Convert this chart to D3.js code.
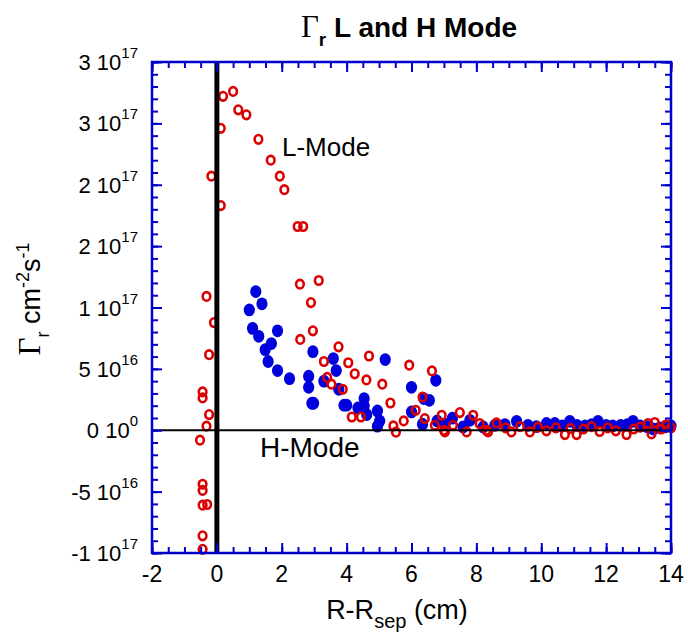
<!DOCTYPE html>
<html>
<head>
<meta charset="utf-8">
<script src="https://cdn.jsdelivr.net/npm/d3@7"></script>
<style>
  body { margin: 0; background: #fff; }
  svg { display: block; font-family: "Liberation Sans", Arial, Helvetica, sans-serif; }
</style>
</head>
<body>
<div id="chart"></div>
<script>
// flux values in units of 1e16 cm^-2 s^-1, position in cm
const lModeX = [-0.52, -0.44, -0.44, -0.44, -0.30, -0.44, -0.44, -0.32, -0.24, -0.44, -0.44, -0.24, -0.09, -0.32,
  0.12, -0.17, 0.12, 0.19, 0.50, 0.66, 0.91, 1.28, 1.66, 1.94, 2.08, 2.49, 2.66, 2.56, 3.14, 2.90, 2.96, 2.57,
  3.75, 3.30, 4.05, 4.69, 4.25, 3.40, 3.53, 3.88, 4.61, 5.10, 5.35, 4.16, 4.44, 5.44, 5.52, 5.76, 5.93, 6.63,
  6.34, 6.13, 6.41, 6.72, 6.93, 7.00, 7.28, 7.49, 7.90, 8.10, 8.31, 8.62, 7.03, 7.70, 8.36,
  8.90, 9.08, 9.35, 9.65, 9.90, 10.16, 10.45, 10.73, 10.90, 11.09, 11.30, 11.55, 11.80, 12.05, 12.30, 12.63,
  12.85, 13.05, 13.29, 13.40, 13.50, 13.70, 13.85, 14.00];
const lModeY = [-0.81, -9.7, -8.6, -6.1, -6.05, -4.9, -4.4, 0.33, 1.28, 2.63, 3.12, 6.16, 8.77, 10.9,
  18.3, 20.7, 24.6, 27.2, 27.6, 26.1, 25.7, 23.7, 22.0, 20.7, 19.6, 16.6, 16.6, 11.9, 12.2, 10.4, 8.1, 7.4,
  6.8, 5.6, 5.5, 6.05, 4.6, 4.3, 3.75, 3.34, 4.1, 3.75, 2.22, 1.08, 1.08, 0.35, -0.16, 0.76, 5.3, 4.83,
  2.7, 1.63, 0.95, 0.4, 1.22, 0.0, 0.4, 1.44, 1.22, 0.55, 0.0, 0.6, -0.14, -0.14, -0.14,
  0.2, -0.14, 0.3, -0.14, 0.25, -0.05, 0.2, -0.35, 0.15, -0.35, 0.1, 0.3, -0.1, 0.2, -0.05, -0.35,
  0.1, 0.25, 0.55, -0.3, 0.63, 0.1, 0.45, 0.2];

const hModeX = [1.20, 1.39, 1.00, 1.10, 1.29, 1.87, 1.68, 1.49, 1.58, 1.87, 2.24, 2.83, 2.83, 2.96, 2.93, 2.98,
  3.30, 3.59, 3.68, 3.76, 3.92, 4.00, 4.54, 4.54, 4.35, 4.62, 4.95, 5.02, 4.95, 5.19, 6.00, 6.00, 6.75, 6.38,
  6.55, 6.34, 6.79, 7.03, 7.26, 7.59, 7.80, 8.21, 8.57, 8.88, 9.24, 9.59, 9.85, 10.16, 10.42, 10.65, 10.88,
  11.10, 11.35, 11.55, 11.75, 12.00, 12.20, 12.45, 12.65, 12.83, 13.05, 13.25, 13.45, 13.65, 13.81, 14.00];
const hModeY = [11.3, 10.3, 9.8, 8.3, 7.65, 8.1, 7.06, 6.57, 5.6, 4.86, 4.2, 4.4, 3.5, 6.4, 2.2, 2.2,
  4.0, 5.84, 4.86, 3.34, 2.04, 2.04, 2.58, 1.98, 1.82, 1.28, 1.57, 0.76, 0.33, 5.76, 3.5, 1.49, 4.07, 2.58,
  2.44, 0.49, 0.76, 0.49, 0.98, 0.27, 0.81, 0.27, 0.4, 0.46, 0.73, 0.4, 0.3, 0.55, 0.55, 0.35, 0.73,
  0.4, 0.35, 0.45, 0.73, 0.4, 0.35, 0.4, 0.45, 0.73, 0.35, 0.3, 0.1, 0.2, 0.27, 0.35];

const xTicks = [-2, 0, 2, 4, 6, 8, 10, 12, 14];
const yTicks = [-10, -5, 0, 5, 10, 15, 20, 25, 30];

const width = 688, height = 635;
const margin = {top: 62, right: 17, bottom: 82, left: 152};
const axisBlue = "#0000cc";

const svg = d3.select("#chart").append("svg")
  .attr("width", width)
  .attr("height", height);

const x = d3.scaleLinear().domain([-2, 14]).range([margin.left, width - margin.right]);
const y = d3.scaleLinear().domain([-10, 30]).range([height - margin.bottom, margin.top]);

const lData = lModeX.map((d, i) => ({x: d, y: lModeY[i]}));
const hData = hModeX.map((d, i) => ({x: d, y: hModeY[i]}));

// markers
svg.append("g")
  .selectAll("ellipse")
  .data(hData)
  .join("ellipse")
  .attr("cx", d => x(d.x))
  .attr("cy", d => y(d.y))
  .attr("rx", 5.6)
  .attr("ry", 6.4)
  .attr("fill", "#0000dd");

svg.append("g")
  .selectAll("ellipse")
  .data(lData)
  .join("ellipse")
  .attr("cx", d => x(d.x))
  .attr("cy", d => y(d.y))
  .attr("rx", 3.8)
  .attr("ry", 4.3)
  .attr("fill", "none")
  .attr("stroke", "#dd0000")
  .attr("stroke-width", 2.6);

// zero lines
svg.append("line")
  .attr("x1", x(-2)).attr("x2", x(14))
  .attr("y1", y(0)).attr("y2", y(0))
  .attr("stroke", "#000").attr("stroke-width", 2);
svg.append("line")
  .attr("x1", x(0)).attr("x2", x(0))
  .attr("y1", y(30)).attr("y2", y(-10))
  .attr("stroke", "#000").attr("stroke-width", 5);

// axes with inward ticks on all four sides
const xMinor = d3.range(-2, 14.01, 0.5);
const yMinor = d3.range(-10, 30.01, 1);

function styleAxis(g) {
  g.select(".domain").remove();
  g.selectAll("line").attr("stroke", axisBlue).attr("stroke-width", 2);
  g.selectAll("text").remove();
}

svg.append("g").attr("transform", `translate(0,${y(-10)})`)
  .call(d3.axisTop(x).tickValues(xMinor).tickSize(6)).call(styleAxis);
svg.append("g").attr("transform", `translate(0,${y(-10)})`)
  .call(d3.axisTop(x).tickValues(xTicks).tickSize(10)).call(styleAxis);
svg.append("g").attr("transform", `translate(0,${y(30)})`)
  .call(d3.axisBottom(x).tickValues(xMinor).tickSize(6)).call(styleAxis);
svg.append("g").attr("transform", `translate(0,${y(30)})`)
  .call(d3.axisBottom(x).tickValues(xTicks).tickSize(10)).call(styleAxis);
svg.append("g").attr("transform", `translate(${x(-2)},0)`)
  .call(d3.axisRight(y).tickValues(yMinor).tickSize(6)).call(styleAxis);
svg.append("g").attr("transform", `translate(${x(-2)},0)`)
  .call(d3.axisRight(y).tickValues(yTicks).tickSize(10)).call(styleAxis);
svg.append("g").attr("transform", `translate(${x(14)},0)`)
  .call(d3.axisLeft(y).tickValues(yMinor).tickSize(6)).call(styleAxis);
svg.append("g").attr("transform", `translate(${x(14)},0)`)
  .call(d3.axisLeft(y).tickValues(yTicks).tickSize(10)).call(styleAxis);

svg.append("rect")
  .attr("x", x(-2)).attr("y", y(30))
  .attr("width", x(14) - x(-2)).attr("height", y(-10) - y(30))
  .attr("fill", "none").attr("stroke", axisBlue).attr("stroke-width", 2.5);

// tick labels
svg.append("g")
  .selectAll("text")
  .data(xTicks)
  .join("text")
  .attr("x", d => x(d))
  .attr("y", 582)
  .attr("text-anchor", "middle")
  .attr("font-size", 23)
  .text(d => d);

const yLab = svg.append("g")
  .selectAll("text")
  .data(yTicks)
  .join("text")
  .attr("x", 138)
  .attr("y", d => y(d) + 8)
  .attr("text-anchor", "end")
  .attr("font-size", 22);
yLab.each(function(d) {
  const v = d * 1e16;
  let exp = 0, mant = 0;
  if (v !== 0) {
    exp = Math.floor(Math.log10(Math.abs(v)));
    mant = Math.round(v / Math.pow(10, exp));
  }
  const t = d3.select(this);
  t.append("tspan").text(`${mant} 10`);
  t.append("tspan").attr("dy", -12).attr("font-size", 15).text(exp);
});

// in-plot labels
svg.append("text").attr("x", 282).attr("y", 156).attr("font-size", 26).text("L-Mode");
svg.append("text").attr("x", 260).attr("y", 457).attr("font-size", 28).text("H-Mode");

// title
const title = svg.append("text")
  .attr("x", 409).attr("y", 37)
  .attr("text-anchor", "middle")
  .attr("font-size", 28)
  .attr("font-weight", "bold");
title.append("tspan").attr("font-family", "Liberation Serif, serif").attr("font-weight", "normal").attr("font-size", 31).text("Γ");
title.append("tspan").attr("dy", 9).attr("font-size", 19).text("r");
title.append("tspan").attr("dy", -9).text(" L and H Mode");

// x label
const xl = svg.append("text")
  .attr("x", 397).attr("y", 619)
  .attr("text-anchor", "middle")
  .attr("font-size", 27);
xl.append("tspan").text("R-R");
xl.append("tspan").attr("dy", 9).attr("font-size", 20).text("sep");
xl.append("tspan").attr("dy", -9).text(" (cm)");

// y label
const yl = svg.append("text")
  .attr("transform", "translate(40,299) rotate(-90)")
  .attr("text-anchor", "middle")
  .attr("font-size", 27);
yl.append("tspan").attr("font-family", "Liberation Serif, serif").attr("font-size", 31).text("Γ");
yl.append("tspan").attr("dy", 9).attr("font-size", 18).text("r");
yl.append("tspan").attr("dy", -9).text(" cm");
yl.append("tspan").attr("dy", -11).attr("font-size", 18).text("-2");
yl.append("tspan").attr("dy", 11).text("s");
yl.append("tspan").attr("dy", -11).attr("font-size", 18).text("-1");
</script>
</body>
</html>
